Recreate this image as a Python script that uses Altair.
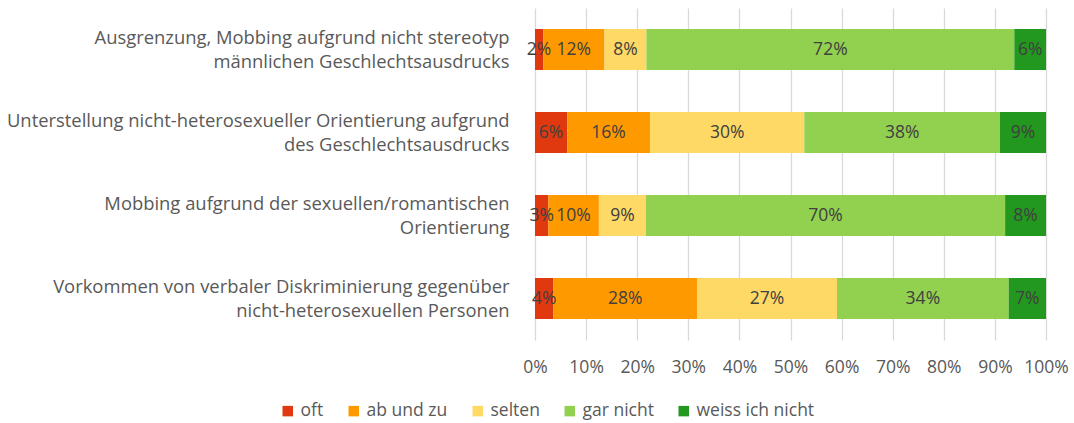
import altair as alt
import pandas as pd

categories = [
    "Ausgrenzung, Mobbing aufgrund nicht stereotyp\nmännlichen Geschlechtsausdrucks",
    "Unterstellung nicht-heterosexueller Orientierung aufgrund\ndes Geschlechtsausdrucks",
    "Mobbing aufgrund der sexuellen/romantischen\nOrientierung",
    "Vorkommen von verbaler Diskriminierung gegenüber\nnicht-heterosexuellen Personen",
]
series = ["oft", "ab und zu", "selten", "gar nicht", "weiss ich nicht"]
oft = [1.6, 6.3, 2.6, 3.6]
ab_und_zu = [12.0, 16.2, 9.9, 28.1]
selten = [8.2, 30.2, 9.2, 27.4]
gar_nicht = [72.0, 38.3, 70.3, 33.6]
weiss_nicht = [6.2, 9.0, 8.0, 7.3]
colors = ["#E0390F", "#FF9900", "#FFD966", "#92D050", "#23981E"]
x_ticks = [i / 10 for i in range(11)]

values = [oft, ab_und_zu, selten, gar_nicht, weiss_nicht]
rows = []
for si, s in enumerate(series):
    for ci, c in enumerate(categories):
        v = values[si][ci]
        rows.append({"cat": c, "series": s, "order": si, "value": v / 100.0,
                     "label": f"{round(v)}%"})
df = pd.DataFrame(rows)

FONT = "Open Sans"
FS = 17.5
FSY = 18.4

bars = alt.Chart(df).mark_bar(size=41).encode(
    y=alt.Y("cat:N", sort=categories, title=None,
            scale=alt.Scale(paddingInner=0.5, paddingOuter=0.25),
            axis=alt.Axis(labelExpr="split(datum.label, '\\n')", labelAlign="right",
                          labelFont=FONT, labelFontSize=FSY, labelColor="#595959",
                          ticks=False, domain=False, labelPadding=26,
                          labelOffset=-12, labelLineHeight=24, labelLimit=600)),
    x=alt.X("value:Q", stack="zero", title=None,
            scale=alt.Scale(domain=[0, 1], nice=False),
            axis=alt.Axis(format=".0%", values=x_ticks, labelOverlap=False,
                          labelFlush=False,
                          labelFont=FONT, labelFontSize=FS, labelColor="#595959",
                          ticks=False, domain=False, labelPadding=18,
                          grid=True, gridColor="#D9D9D9", gridWidth=1.3)),
    order=alt.Order("order:Q"),
    color=alt.Color("series:N", sort=series,
                    scale=alt.Scale(domain=series, range=colors),
                    legend=alt.Legend(title=None, orient="none", direction="horizontal",
                                      legendX=-256, legendY=394,
                                      symbolType="square", symbolSize=110,
                                      symbolStrokeWidth=0, labelFont=FONT,
                                      labelFontSize=FS, labelColor="#595959",
                                      labelOffset=4, columnPadding=21, padding=0)),
)

texts = alt.Chart(df).transform_stack(
    stack="value", groupby=["cat"], sort=[alt.SortField("order")], as_=["v0", "v1"]
).transform_calculate(mid="(datum.v0 + datum.v1) / 2").mark_text(
    font=FONT, fontSize=FS, color="#404040"
).encode(
    y=alt.Y("cat:N", sort=categories),
    x=alt.X("mid:Q"),
    text="label:N",
)

chart = alt.layer(bars, texts).properties(
    width=511, height=332,
    autosize=alt.AutoSizeParams(type="none"),
    padding={"left": 535, "top": 8, "right": 28, "bottom": 83},
    background="white",
).configure_view(stroke=None)

chart.save("out.html", embed_options={"renderer": "svg", "actions": False})
